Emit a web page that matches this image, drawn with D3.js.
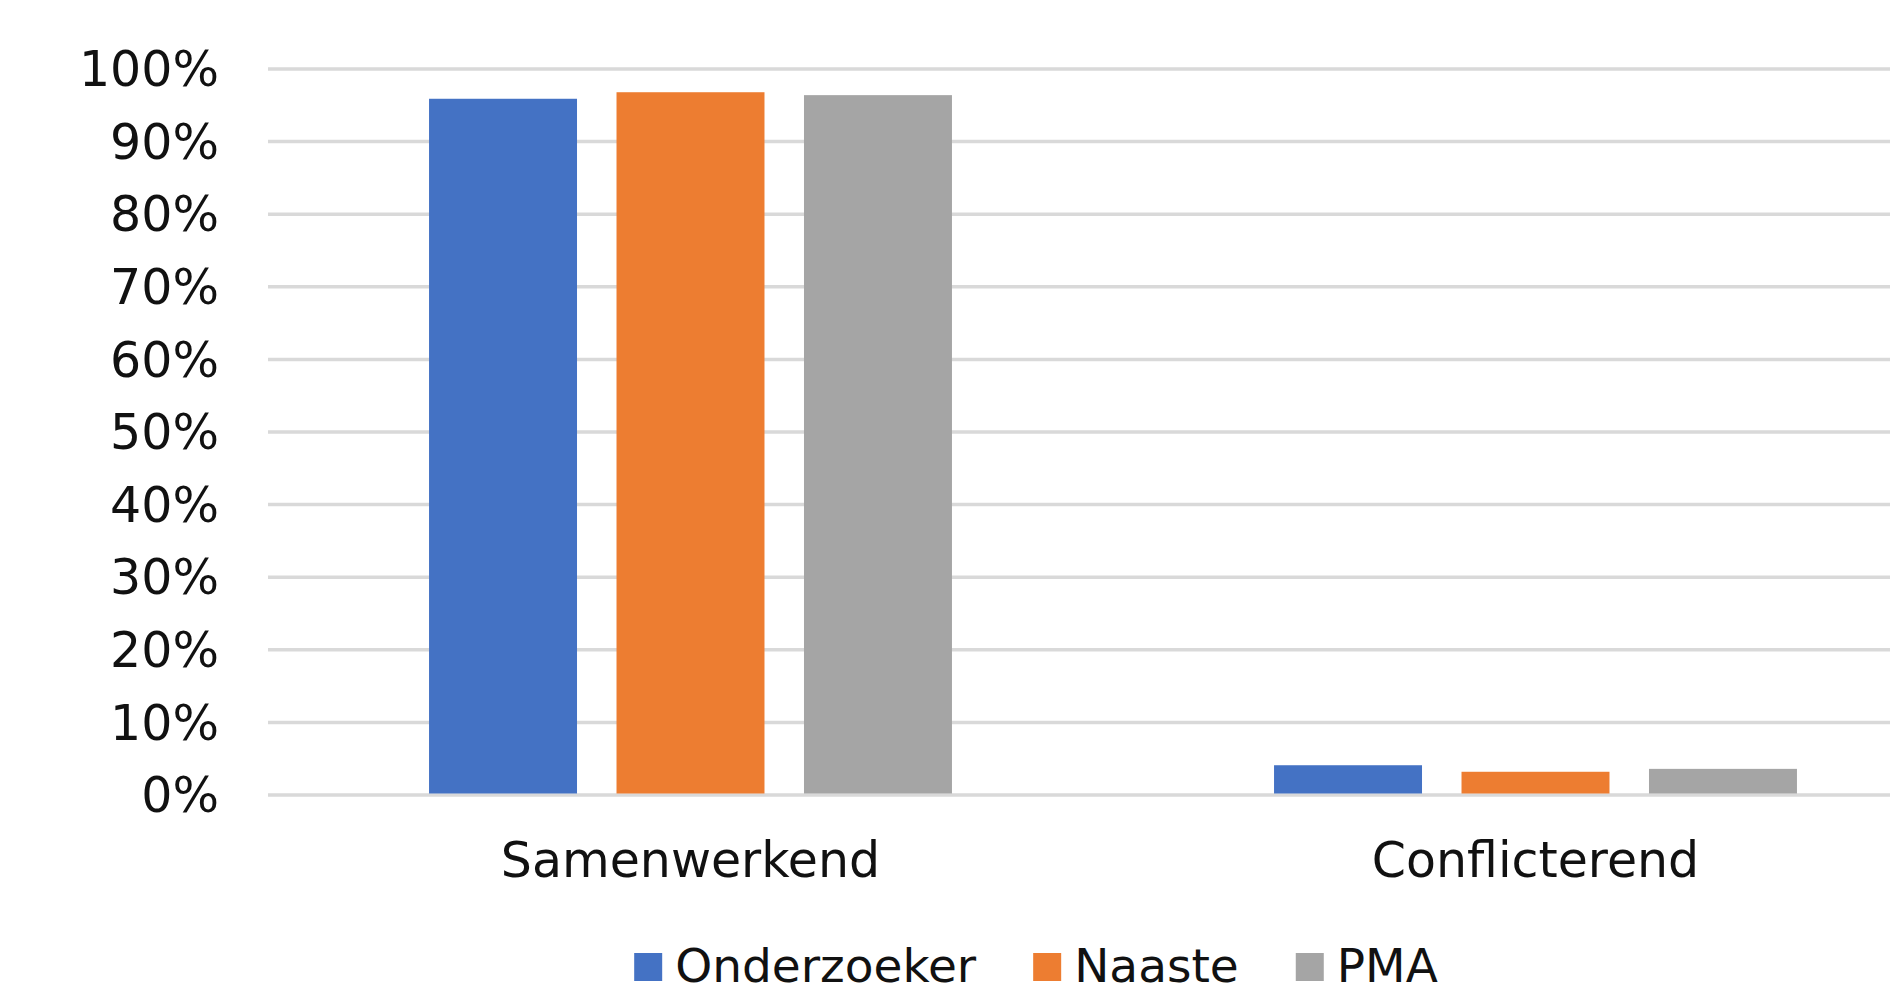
<!DOCTYPE html>
<html>
<head>
<meta charset="utf-8">
<script src="https://cdn.jsdelivr.net/npm/d3@7"></script>
<style>
  html, body { margin: 0; padding: 0; background: #fff; overflow: hidden; }
  svg { display: block; }
  text { font-family: "DejaVu Sans", Verdana, sans-serif; fill: #111; }
</style>
</head>
<body>
<div id="chart"></div>
<script>
// data
var categories = ['Samenwerkend', 'Conflicterend'];
var series = ['Onderzoeker', 'Naaste', 'PMA'];
var colors = ['#4472C4', '#ED7D31', '#A5A5A5'];
var samenwerkend = [0.959, 0.968, 0.964];
var conflicterend = [0.041, 0.032, 0.036];
var yTicks = [0, 0.1, 0.2, 0.3, 0.4, 0.5, 0.6, 0.7, 0.8, 0.9, 1];

var values = [samenwerkend, conflicterend];

var W = 1890, H = 994;
var svg = d3.select('#chart').append('svg')
    .attr('width', W)
    .attr('height', H);

// plot area runs past the right edge, like the cropped original
var x = d3.scaleBand()
    .domain(categories)
    .range([268, 1958])
    .paddingInner(0)
    .paddingOuter(0);

var xs = d3.scaleBand()
    .domain(series)
    .range([0, x.bandwidth()])
    .paddingInner(0.2107)
    .paddingOuter(0.859);

var y = d3.scaleLinear()
    .domain([0, 1])
    .range([795, 69]);

// gridlines
svg.append('g').selectAll('line.grid').data(yTicks).enter()
  .append('line')
    .attr('class', 'grid')
    .attr('x1', 268)
    .attr('x2', W)
    .attr('y1', function(d){ return y(d); })
    .attr('y2', function(d){ return y(d); })
    .attr('stroke', '#D9D9D9')
    .attr('stroke-width', 3.5);

// y axis labels
var yAxis = d3.axisLeft(y)
    .tickValues(yTicks)
    .tickFormat(d3.format('.0%'))
    .tickSize(0)
    .tickPadding(0);

var yg = svg.append('g')
    .attr('transform', 'translate(219,0)')
    .call(yAxis);
yg.select('.domain').remove();
yg.selectAll('text')
    .attr('font-size', '49px')
    .attr('dy', '0.34em')
    .style('font-family', '"DejaVu Sans", Verdana, sans-serif')
    .attr('fill', '#111');

// bars
var groups = svg.append('g').selectAll('g.cat').data(categories).enter()
  .append('g')
    .attr('class', 'cat')
    .attr('transform', function(d){ return 'translate(' + x(d) + ',0)'; });

groups.selectAll('rect').data(function(d, i){
    return series.map(function(s, j){ return { s: s, v: values[i][j], c: colors[j] }; });
  }).enter()
  .append('rect')
    .attr('x', function(d){ return xs(d.s); })
    .attr('y', function(d){ return y(d.v); })
    .attr('width', xs.bandwidth())
    .attr('height', function(d){ return y(0) - y(d.v) - 1.5; })
    .attr('fill', function(d){ return d.c; });

// category labels
var xAxis = d3.axisBottom(x).tickSize(0).tickPadding(0);
var xg = svg.append('g')
    .attr('transform', 'translate(0,877)')
    .call(xAxis);
xg.select('.domain').remove();
xg.selectAll('text')
    .attr('font-size', '49px')
    .attr('dy', 0)
    .attr('y', 0)
    .style('font-family', '"DejaVu Sans", Verdana, sans-serif')
    .attr('fill', '#111');

// legend
var legend = svg.append('g').attr('class', 'legend');
var items = legend.selectAll('g').data(series).enter().append('g');
items.append('rect')
    .attr('width', 28)
    .attr('height', 28)
    .attr('y', 953)
    .attr('fill', function(d, i){ return colors[i]; });
items.append('text')
    .attr('x', 41)
    .attr('y', 982)
    .attr('font-size', '47px')
    .text(function(d){ return d; });

var pos = 0, offsets = [];
items.each(function(){
  offsets.push(pos);
  pos += 41 + this.querySelector('text').getComputedTextLength() + 57;
});
var total = pos - 57;
var start = 1036 - total / 2;
items.attr('transform', function(d, i){ return 'translate(' + (start + offsets[i]) + ',0)'; });
</script>
</body>
</html>
